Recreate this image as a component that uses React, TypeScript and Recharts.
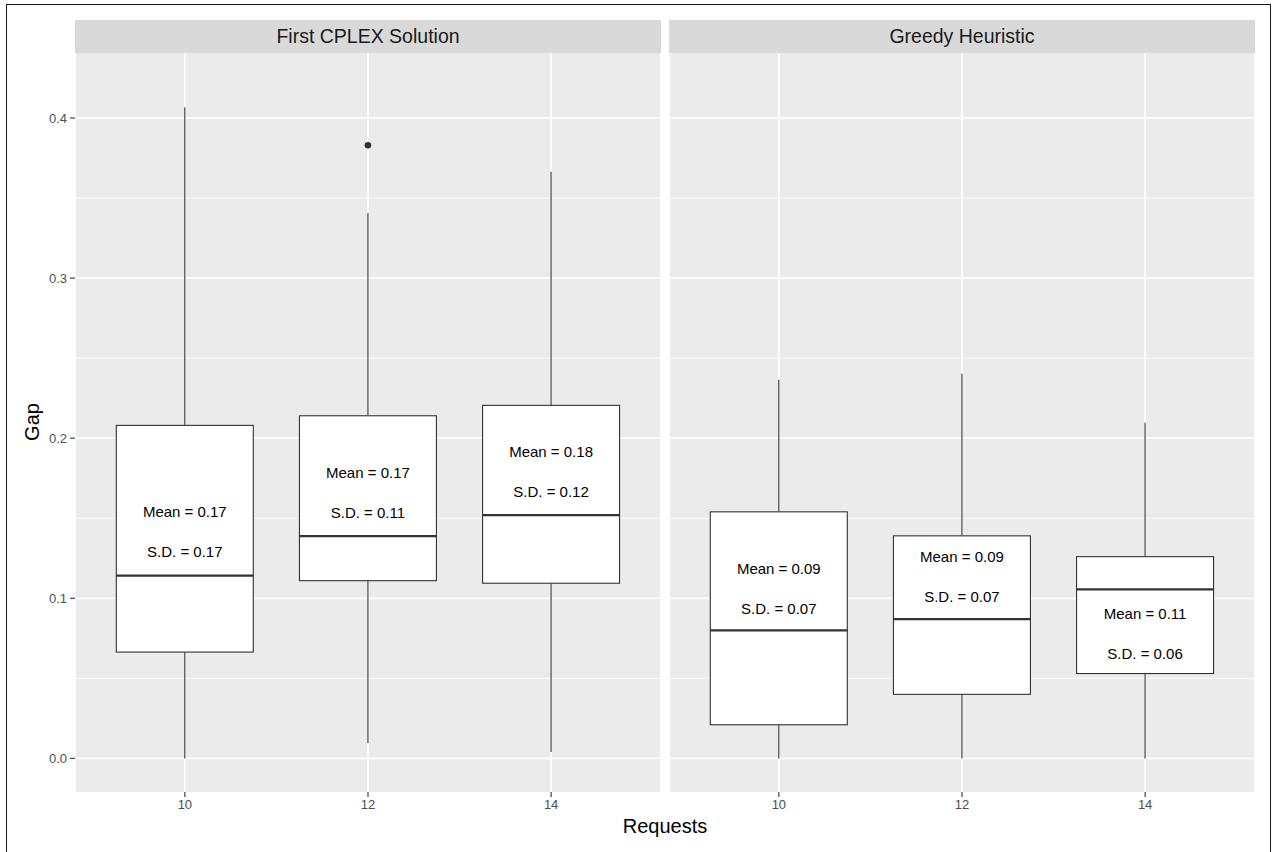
import React from "react";
import { ComposedChart, Bar, XAxis, YAxis, CartesianGrid } from "recharts";

const requests = ["10", "12", "14"];
const facets = ["First CPLEX Solution", "Greedy Heuristic"];

// First CPLEX Solution
const cplexLower = [0.0, 0.0094, 0.004];
const cplexQ1 = [0.0664, 0.111, 0.1094];
const cplexMedian = [0.1142, 0.1388, 0.1519];
const cplexQ3 = [0.208, 0.214, 0.2205];
const cplexUpper = [0.4067, 0.3406, 0.3665];
const cplexOutliers = [[], [0.383], []];
const cplexMean = ["0.17", "0.17", "0.18"];
const cplexSd = ["0.17", "0.11", "0.12"];
const cplexLabelAt = [0.1417, 0.1658, 0.179];

// Greedy Heuristic
const greedyLower = [0.0, 0.0, 0.0];
const greedyQ1 = [0.021, 0.040, 0.053];
const greedyMedian = [0.080, 0.087, 0.1056];
const greedyQ3 = [0.154, 0.139, 0.126];
const greedyUpper = [0.2365, 0.2402, 0.2096];
const greedyOutliers = [[], [], []];
const greedyMean = ["0.09", "0.09", "0.11"];
const greedySd = ["0.07", "0.07", "0.06"];
const greedyLabelAt = [0.1064, 0.1139, 0.0779];

const yTicks = [0, 0.1, 0.2, 0.3, 0.4];
const yMinor = [0.05, 0.15, 0.25, 0.35];

const FONT = '"Liberation Sans", Arial, Helvetica, sans-serif';
const INK = "#333333";

const buildRows = (
  lower: number[], q1: number[], median: number[], q3: number[], upper: number[],
  outliers: number[][], mean: string[], sd: string[], labelAt: number[]
) =>
  requests.map((req, i) => ({
    req,
    lower: lower[i],
    q1: q1[i],
    median: median[i],
    q3: q3[i],
    upper: upper[i],
    outliers: outliers[i],
    mean: mean[i],
    sd: sd[i],
    labelAt: labelAt[i],
  }));

const cplexRows = buildRows(cplexLower, cplexQ1, cplexMedian, cplexQ3, cplexUpper, cplexOutliers, cplexMean, cplexSd, cplexLabelAt);
const greedyRows = buildRows(greedyLower, greedyQ1, greedyMedian, greedyQ3, greedyUpper, greedyOutliers, greedyMean, greedySd, greedyLabelAt);

function BoxShape(props: any) {
  const { x, y, width, height, payload } = props;
  if (!payload) return null;
  const top = Math.min(y, y + height);
  const bottom = Math.max(y, y + height);
  const span = payload.upper - payload.lower;
  // the bar spans lower..upper, so map other values linearly inside it
  const py = (v: number) => bottom - ((v - payload.lower) / span) * (bottom - top);
  const cx = x + width / 2;
  const yQ1 = py(payload.q1);
  const yQ3 = py(payload.q3);
  const yMed = py(payload.median);
  const yLab = py(payload.labelAt);
  return (
    <g>
      <line x1={cx} x2={cx} y1={top} y2={yQ3} stroke={INK} strokeWidth={1.1} />
      <line x1={cx} x2={cx} y1={yQ1} y2={bottom} stroke={INK} strokeWidth={1.1} />
      <rect x={x} y={yQ3} width={width} height={yQ1 - yQ3} fill="#ffffff" stroke={INK} strokeWidth={1.1} />
      <line x1={x} x2={x + width} y1={yMed} y2={yMed} stroke={INK} strokeWidth={2.3} />
      {payload.outliers.map((o: number, k: number) => (
        <circle key={k} cx={cx} cy={py(o)} r={3.3} fill={INK} />
      ))}
      <text x={cx} y={yLab - 20} textAnchor="middle" dominantBaseline="central" fontSize={15} fontFamily={FONT} fill="#000">
        {`Mean = ${payload.mean}`}
      </text>
      <text x={cx} y={yLab + 20} textAnchor="middle" dominantBaseline="central" fontSize={15} fontFamily={FONT} fill="#000">
        {`S.D. = ${payload.sd}`}
      </text>
    </g>
  );
}

function Panel({ data, showY, left, width, marginRight }: any) {
  return (
    <div style={{ position: "absolute", left, top: 0 }}>
      <ComposedChart
        width={width}
        height={852}
        data={data}
        margin={{ top: 53, right: marginRight, bottom: 30, left: 0 }}
      >
        <CartesianGrid
          horizontal
          vertical={false}
          horizontalValues={yMinor}
          stroke="#ffffff"
          strokeWidth={0.9}
          fill="#EBEBEB"
          fillOpacity={1}
        />
        <CartesianGrid horizontalValues={yTicks} stroke="#ffffff" strokeWidth={1.7} />
        <XAxis
          dataKey="req"
          type="category"
          height={30}
          padding={{ left: 18.3, right: 18.3 }}
          axisLine={false}
          tickLine={{ stroke: INK, strokeWidth: 1.1 }}
          tickSize={5}
          tickMargin={3}
          tick={{ fill: "#4D4D4D", fontSize: 13, fontFamily: FONT }}
        />
        <YAxis
          type="number"
          hide={!showY}
          width={75}
          domain={[-0.021, 0.4406]}
          allowDataOverflow
          ticks={yTicks}
          tickFormatter={(v: number) => v.toFixed(1)}
          axisLine={false}
          tickLine={{ stroke: INK, strokeWidth: 1.1 }}
          tickSize={5}
          tickMargin={3}
          tick={{ fill: "#4D4D4D", fontSize: 13, fontFamily: FONT }}
        />
        <Bar
          dataKey={(d: any) => [d.lower, d.upper]}
          barSize={137}
          shape={BoxShape}
          isAnimationActive={false}
        />
      </ComposedChart>
    </div>
  );
}

const stripStyle = (left: number): React.CSSProperties => ({
  position: "absolute",
  left,
  top: 20,
  width: 586,
  height: 33,
  lineHeight: "33px",
  background: "#D9D9D9",
  color: "#1A1A1A",
  fontSize: 19.5,
  textAlign: "center",
});

export default function App() {
  return (
    <div
      style={{
        position: "absolute",
        left: 0,
        top: 0,
        width: 1274,
        height: 852,
        overflow: "hidden",
        background: "#ffffff",
        fontFamily: FONT,
      }}
    >
      <div
        style={{
          position: "absolute",
          left: 6,
          top: 4,
          width: 1265,
          height: 870,
          border: "1.4px solid #1a1a1a",
          boxSizing: "border-box",
        }}
      />
      <Panel data={cplexRows} showY left={0} width={661} marginRight={0} />
      <Panel data={greedyRows} showY={false} left={669} width={605} marginRight={19} />
      <div style={stripStyle(75)}>{facets[0]}</div>
      <div style={stripStyle(669)}>{facets[1]}</div>
      <div
        style={{
          position: "absolute",
          left: 75,
          top: 816,
          width: 1180,
          textAlign: "center",
          fontSize: 20,
          lineHeight: "20px",
          color: "#000",
        }}
      >
        Requests
      </div>
      <div
        style={{
          position: "absolute",
          left: 32,
          top: 422,
          transform: "translate(-50%, -50%) rotate(-90deg)",
          whiteSpace: "nowrap",
          fontSize: 20,
          lineHeight: "20px",
          color: "#000",
        }}
      >
        Gap
      </div>
    </div>
  );
}
